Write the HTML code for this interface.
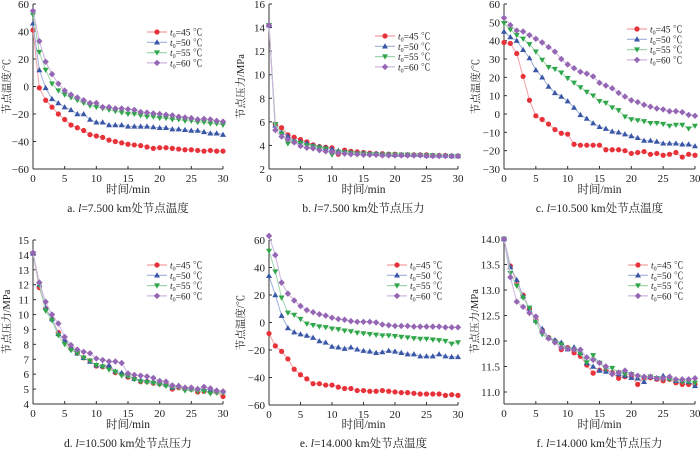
<!DOCTYPE html>
<html><head><meta charset="utf-8">
<style>
html,body{margin:0;padding:0;background:#fff;}
svg{display:block;font-family:"Liberation Serif","Noto Serif CJK SC",serif;}
</style></head>
<body>
<svg id="chart" width="700" height="451" viewBox="0 0 700 451" xmlns="http://www.w3.org/2000/svg"></svg>
<script>
const times = Array.from({length:31},(_,i)=>i);
const seriesLabels = ["45","50","55","60"];
const xTicks = [0,5,10,15,20,25,30];

const aT45=[41,-1,-10,-15,-20,-24,-28,-30,-32,-35,-36,-37,-39,-40,-41,-42,-42.5,-43,-44,-45,-44.5,-44.5,-45,-45.5,-46,-46,-46.5,-47,-46.5,-47,-47];
const aT50=[46,12,-1,-9,-12,-15,-17,-20,-20,-24,-26,-26,-28,-28,-28,-29,-29,-29,-29,-29.5,-30,-30,-31,-31,-31.5,-32,-32,-33,-34,-34,-35];
const aT55=[52,25,12,2,-3,-6,-8,-10,-12,-14,-15,-16,-17,-18,-19,-20,-20,-21,-22,-22,-23,-23,-24,-24,-25,-25,-26,-26,-27,-27,-28];
const aT60=[55,33,18,9,2,-3,-6,-8,-10,-12,-12,-15,-15,-16,-16,-16.5,-17,-18.5,-19,-19.5,-20,-20.5,-21,-22,-22.5,-23,-24,-23.5,-24,-25,-25.5];

const bP45=[14.2,5.8,5.5,4.9,4.7,4.5,4.3,4.05,3.9,3.85,3.8,3.25,3.6,3.5,3.45,3.4,3.35,3.3,3.3,3.25,3.25,3.2,3.2,3.2,3.2,3.2,3.15,3.15,3.15,3.1,3.1];
const bP50=[14.2,5.7,5.1,4.8,4.4,4.3,4.2,4.0,3.9,3.8,3.7,3.55,3.45,3.4,3.35,3.35,3.3,3.3,3.25,3.25,3.2,3.2,3.2,3.2,3.2,3.15,3.15,3.15,3.15,3.1,3.1];
const bP55=[14.2,5.8,5.0,4.15,4.3,4.2,4.0,3.9,3.8,3.7,3.2,3.45,3.4,3.35,3.3,3.3,3.25,3.25,3.2,3.2,3.2,3.2,3.2,3.15,3.15,3.15,3.15,3.1,3.1,3.1,3.1];
const bP60=[14.2,5.3,4.75,4.5,4.25,3.95,3.8,3.75,3.6,3.5,3.45,3.35,3.3,3.25,3.25,3.2,3.2,3.2,3.15,3.15,3.15,3.15,3.15,3.15,3.15,3.1,3.1,3.1,3.1,3.1,3.1];

const cT45=[39,38.5,33,20.5,7.5,-1,-3,-5.5,-8.5,-10.5,-11,-16.5,-17,-17,-17,-17,-19.5,-19.5,-19.5,-20,-21.5,-21,-20.5,-22,-21.5,-22.5,-22,-21,-23.5,-22,-22.5];
const cT50=[45,42,40,35,30.5,24,20,15,11.5,9.5,7,3.5,-0.5,-2.5,-5,-7,-8,-9.5,-10,-11,-12,-13,-14.5,-14.5,-15,-16,-16,-16,-16.5,-16.5,-17.5];
const cT55=[49.5,46,43,41,38,34,29.5,25.5,24.5,22.5,19.5,17,14.5,12,10,7,6,3.5,2,-1.5,-3,-3.5,-4,-5,-5,-5.5,-6.5,-6,-6,-8,-6.5];
const cT60=[52.5,48.5,45.5,45,43,41,39,36.5,34,30,27,25,23,22,20.5,17,15.5,14,11.5,9.5,7.5,6.5,5,4,3,2.5,1.5,1.5,1,-0.5,-1];

const dP45=[14.1,11.8,10.4,9.7,8.8,8.2,7.7,7.4,7.1,6.9,6.55,6.5,6.5,6.1,6.0,5.8,5.7,5.5,5.5,5.4,5.35,5.3,5.0,5.1,5.0,5.0,4.8,4.85,4.8,4.8,4.5];
const dP50=[14.1,12.0,10.45,9.7,8.7,8.3,7.8,7.4,7.1,6.85,6.6,6.55,6.6,6.2,6.1,5.9,5.7,5.6,5.55,5.5,5.4,5.3,5.1,5.25,5.05,5.0,5.05,5.0,4.95,4.9,4.85];
const dP55=[14.1,12.0,10.25,9.6,8.6,8.0,7.6,7.4,7.1,6.9,6.6,6.5,6.3,6.15,5.9,5.85,5.65,5.5,5.45,5.4,5.3,5.2,5.1,5.1,4.9,4.95,4.85,4.85,4.7,4.75,4.75];
const dP60=[14.15,12.15,10.85,10.0,9.4,8.5,7.95,7.65,7.5,7.4,7.05,6.95,6.85,6.85,6.75,6.05,5.95,5.9,5.85,5.75,5.55,5.5,5.25,5.2,5.1,5.1,5.0,5.15,5.05,4.9,4.85];

const eT45=[-8,-17,-21,-26.5,-34,-38,-41,-44.5,-44.5,-45.5,-45.5,-47,-48,-48,-49.5,-49.5,-50,-50,-49.5,-50,-50.5,-51,-51,-51.5,-52,-52,-52,-52,-53,-52.5,-53];
const eT50=[34,20,5,-4,-7,-8.5,-9.5,-11,-13.5,-14.5,-17.5,-18,-19,-18,-19.5,-20.5,-21,-22,-21.5,-20.5,-21,-22,-23,-23,-24.5,-24.5,-24.5,-23,-24.5,-25,-25];
const eT55=[52,37,18,7,5.5,2.5,-1,-2,-3,-3.5,-4.5,-5,-6,-6.5,-7.5,-8,-8.5,-9,-9.5,-9.5,-10,-10.5,-11,-11.5,-12,-12,-12.5,-13,-13.5,-15.5,-14.5];
const eT60=[63,49,29,21,16,12,9,7.5,6,5,3.5,2.5,2,1,0.5,0.5,0.5,0,-1.5,-2,-2.5,-2.5,-2.5,-3,-3,-3,-3,-3,-3.5,-3.5,-3.5];

const fP45=[14.0,13.47,13.15,12.9,12.63,12.42,12.22,12.07,12.0,11.83,11.87,11.77,11.7,11.53,11.37,11.43,11.42,11.38,11.27,11.3,11.3,11.15,11.28,11.28,11.25,11.22,11.25,11.18,11.15,11.15,11.15];
const fP50=[14.0,13.45,13.2,12.88,12.62,12.4,12.24,12.07,12.02,11.97,11.84,11.88,11.77,11.57,11.5,11.42,11.4,11.38,11.35,11.32,11.28,11.27,11.2,11.3,11.27,11.32,11.27,11.22,11.22,11.2,11.12];
const fP55=[14.0,13.33,13.08,12.85,12.65,12.37,12.13,12.05,11.98,11.93,11.85,11.83,11.75,11.58,11.72,11.57,11.45,11.47,11.38,11.35,11.35,11.3,11.28,11.3,11.27,11.25,11.25,11.22,11.2,11.2,11.18];
const fP60=[14.0,13.25,12.77,12.67,12.55,12.48,12.18,12.05,11.97,11.87,11.85,11.83,11.83,11.68,11.63,11.57,11.5,11.35,11.38,11.42,11.35,11.32,11.3,11.3,11.27,11.27,11.3,11.25,11.25,11.25,11.27];

const aYTicks=[-60,-40,-20,0,20,40,60];
const bYTicks=[2,4,6,8,10,12,14,16];
const cYTicks=[-30,-20,-10,0,10,20,30,40,50,60];
const dYTicks=[4,5,6,7,8,9,10,11,12,13,14,15];
const eYTicks=[-60,-40,-20,0,20,40,60];
const fYTicks=[11.0,11.5,12.0,12.5,13.0,13.5,14.0];

const colors=["#e8323a","#3a56a6","#2fa64a","#9466b3"];
const lineColors=["#f2a0a4","#9fb0dc","#9fd6ab","#cdb4de"];
const NS="http://www.w3.org/2000/svg";
const svg=document.getElementById('chart');
function mk(tag,attrs,parent){const e=document.createElementNS(NS,tag);for(const k in attrs)e.setAttribute(k,attrs[k]);(parent||svg).appendChild(e);return e;}

const panels=[
 {id:'a',x0:33,x1:223,yTop:4,yBot:169,ymin:-60,ymax:60,ticks:aYTicks,fmt:v=>String(v).replace('-','−'),series:[aT45,aT50,aT55,aT60],ylab:'节点温度/℃',ylx:6,cap:'a. ',capRest:'=7.500 km处节点温度',leg:[147,32],xl:193,cy:212},
 {id:'b',x0:269,x1:458,yTop:4,yBot:169,ymin:2,ymax:16,ticks:bYTicks,fmt:v=>String(v),series:[bP45,bP50,bP55,bP60],ylab:'节点压力/MPa',ylx:240,cap:'b. ',capRest:'=7.500 km处节点压力',leg:[375,36],xl:193,cy:212},
 {id:'c',x0:504,x1:695,yTop:4,yBot:169,ymin:-30,ymax:60,ticks:cYTicks,fmt:v=>String(v).replace('-','−'),series:[cT45,cT50,cT55,cT60],ylab:'节点温度/℃',ylx:475,cap:'c. ',capRest:'=10.500 km处节点温度',leg:[627,29],xl:193,cy:212},
 {id:'d',x0:33,x1:223,yTop:240,yBot:404,ymin:4,ymax:15,ticks:dYTicks,fmt:v=>String(v),series:[dP45,dP50,dP55,dP60],ylab:'节点压力/MPa',ylx:6,cap:'d. ',capRest:'=10.500 km处节点压力',leg:[147,265],xl:428,cy:447},
 {id:'e',x0:269,x1:458,yTop:240,yBot:405,ymin:-60,ymax:60,ticks:eYTicks,fmt:v=>String(v).replace('-','−'),series:[eT45,eT50,eT55,eT60],ylab:'节点温度/℃',ylx:240,cap:'e. ',capRest:'=14.000 km处节点温度',leg:[387,265],xl:428,cy:447},
 {id:'f',x0:504,x1:695,yTop:239,yBot:404,ymin:10.765,ymax:14.0,ticks:fYTicks,fmt:v=>v.toFixed(1),series:[fP45,fP50,fP55,fP60],ylab:'节点压力/MPa',ylx:474,cap:'f. ',capRest:'=14.000 km处节点压力',leg:[628,265],xl:428,cy:447}
];

function marker(g,k,x,y){
  const c=colors[k];let m;
  if(k===0) m=mk('circle',{cx:x,cy:y,r:2.6,fill:c},g);
  else if(k===1) m=mk('polygon',{points:`${x},${y-3} ${x-3},${y+2.2} ${x+3},${y+2.2}`,fill:c},g);
  else if(k===2) m=mk('polygon',{points:`${x},${y+3} ${x-3},${y-2.2} ${x+3},${y-2.2}`,fill:c},g);
  else m=mk('polygon',{points:`${x},${y-3.2} ${x+3.2},${y} ${x},${y+3.2} ${x-3.2},${y}`,fill:c},g);
  return m;
}

panels.forEach(p=>{
  const g=mk('g',{});
  
  
  const xs=v=>p.x0+(v-0)/(30-0)*(p.x1-p.x0);
  const ys=v=>p.yBot-(v-p.ymin)/(p.ymax-p.ymin)*(p.yBot-p.yTop);
  const axTop=Math.min(p.yTop, ys(p.ticks[p.ticks.length-1]));
  const ya=mk('line',{x1:p.x0,y1:axTop,x2:p.x0,y2:p.yBot,stroke:'#333','stroke-width':1},g);
  
  
  const xa=mk('line',{x1:p.x0,y1:p.yBot,x2:p.x1,y2:p.yBot,stroke:'#333','stroke-width':1},g);
  
  
  p.ticks.forEach(t=>{
    const y=ys(t);
    mk('line',{x1:p.x0,y1:y,x2:p.x0+3,y2:y,stroke:'#333','stroke-width':1},g);
    const tx=mk('text',{x:p.x0-4,y:y+4,'text-anchor':'end','font-size':11,fill:'#222'},g);
    tx.textContent=p.fmt(t);
    
    
  });
  xTicks.forEach(t=>{
    const x=xs(t);
    mk('line',{x1:x,y1:p.yBot,x2:x,y2:p.yBot-3,stroke:'#333','stroke-width':1},g);
    const tx=mk('text',{x:x,y:p.yBot+13,'text-anchor':'middle','font-size':11,fill:'#222'},g);
    tx.textContent=String(t);
    
    
  });
  p.series.forEach((arr,k)=>{
    const sg=mk('g',{},g);
    
    
    const pts=arr.map((v,i)=>xs(times[i]).toFixed(2)+','+ys(v).toFixed(2)).join(' ');
    mk('polyline',{points:pts,fill:'none',stroke:lineColors[k],'stroke-width':1},sg);
    arr.forEach((v,i)=>{
      const m=marker(sg,k,xs(times[i]),ys(v));
      
      
    });
  });
  const lg=mk('g',{},g);
  
  
  seriesLabels.forEach((s,k)=>{
    const y=p.leg[1]+k*10.3;
    const lx=p.leg[0];
    mk('line',{x1:lx,y1:y,x2:lx+20,y2:y,stroke:lineColors[k],'stroke-width':1.2},lg);
    marker(lg,k,lx+10,y);
    const t=mk('text',{x:lx+23,y:y+3.5,'font-size':9.5,fill:'#222'},lg);
    
    
    const t1=mk('tspan',{'font-style':'italic'},t);t1.textContent='t';
    const t2=mk('tspan',{'font-size':6,dy:2},t);t2.textContent='0';
    const t3=mk('tspan',{dy:-2},t);t3.textContent='='+s+' ℃';
  });
  const xl=mk('text',{x:(p.x0+p.x1)/2,y:p.xl,'text-anchor':'middle','font-size':11.5,fill:'#222'},g);
  xl.textContent='时间/min';
  
  
  const cyM=(p.yTop+p.yBot)/2;
  const yl=mk('text',{x:0,y:0,'text-anchor':'middle','font-size':10.5,fill:'#222',transform:`translate(${p.ylx+4},${cyM}) rotate(-90)`},g);
  yl.textContent=p.ylab;
  
  
  const cp=mk('text',{x:(p.x0+p.x1)/2,y:p.cy,'text-anchor':'middle','font-size':11.5,fill:'#222'},g);
  
  
  const c1=mk('tspan',{},cp);c1.textContent=p.cap;
  const c2=mk('tspan',{'font-style':'italic'},cp);c2.textContent='l';
  const c3=mk('tspan',{},cp);c3.textContent=p.capRest;
});
</script>
</body></html>
